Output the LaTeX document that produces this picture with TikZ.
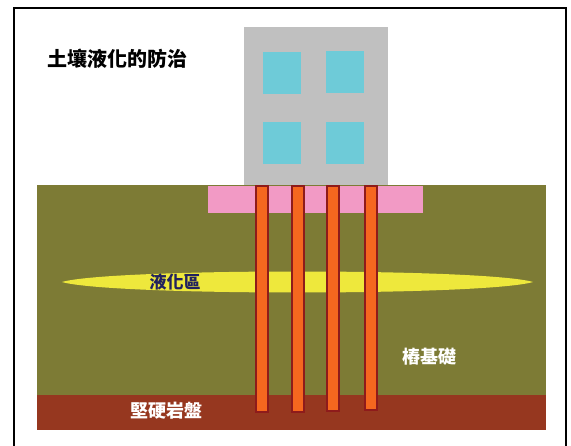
\documentclass[tikz,border=0pt]{standalone}
\usepackage{fontspec}
\newfontfamily\cjk{Noto Sans CJK TC}
\definecolor{wallgray}{HTML}{C0C0C0}
\definecolor{glass}{HTML}{6ECBD8}
\definecolor{soil}{HTML}{7D7B35}
\definecolor{bedrock}{HTML}{96371F}
\definecolor{pilecap}{HTML}{F29AC5}
\definecolor{pilefill}{HTML}{F5671F}
\definecolor{piledraw}{HTML}{8E1B1B}
\definecolor{liquefy}{HTML}{EEE83C}
\definecolor{navy}{HTML}{22225E}
\begin{document}
\begin{tikzpicture}[x=1pt, y=-1pt,
    every node/.style={inner sep=0pt},
    window/.style={fill=glass},
    pile/.style={fill=pilefill, draw=piledraw, line width=1.2pt}]
    \useasboundingbox (0,0) rectangle (571,446);
    % frame, open at the bottom
    \draw[line width=1.8pt] (14,446) -- (14,8) -- (566,8) -- (566,446);
    \node[font=\cjk\bfseries\fontsize{20}{22}\selectfont, anchor=west] (title) at (47,59) {土壤液化的防治};
    % building
    \fill[wallgray] (244,27) rectangle (388,187);
    \fill[window] (263,52) rectangle (301,94);
    \fill[window] (326,51) rectangle (364,93);
    \fill[window] (263,122) rectangle (301,164);
    \fill[window] (326,122) rectangle (364,164);
    % ground layers
    \fill[soil] (37,185) rectangle (546,396);
    \fill[bedrock] (37,395) rectangle (546,430);
    \fill[pilecap] (208,186) rectangle (423,213);
    % liquefied layer
    \fill[liquefy] (62,282) .. controls (110,268) and (485,268) .. (533,282)
        .. controls (485,296) and (110,296) .. (62,282);
    \foreach \x/\b in {256/412, 292/412, 327/411, 365/410} {
        \draw[pile] (\x,186) rectangle (\x+12,\b);
    }
    \node[text=navy, font=\cjk\bfseries\fontsize{17}{19}\selectfont] (zone) at (175,282) {液化區};
    \node[text=white, font=\cjk\bfseries\fontsize{18}{20}\selectfont] (piles) at (429,357) {樁基礎};
    \node[text=white, font=\cjk\bfseries\fontsize{18}{20}\selectfont] (rock) at (166,411) {堅硬岩盤};
\end{tikzpicture}
\end{document}
